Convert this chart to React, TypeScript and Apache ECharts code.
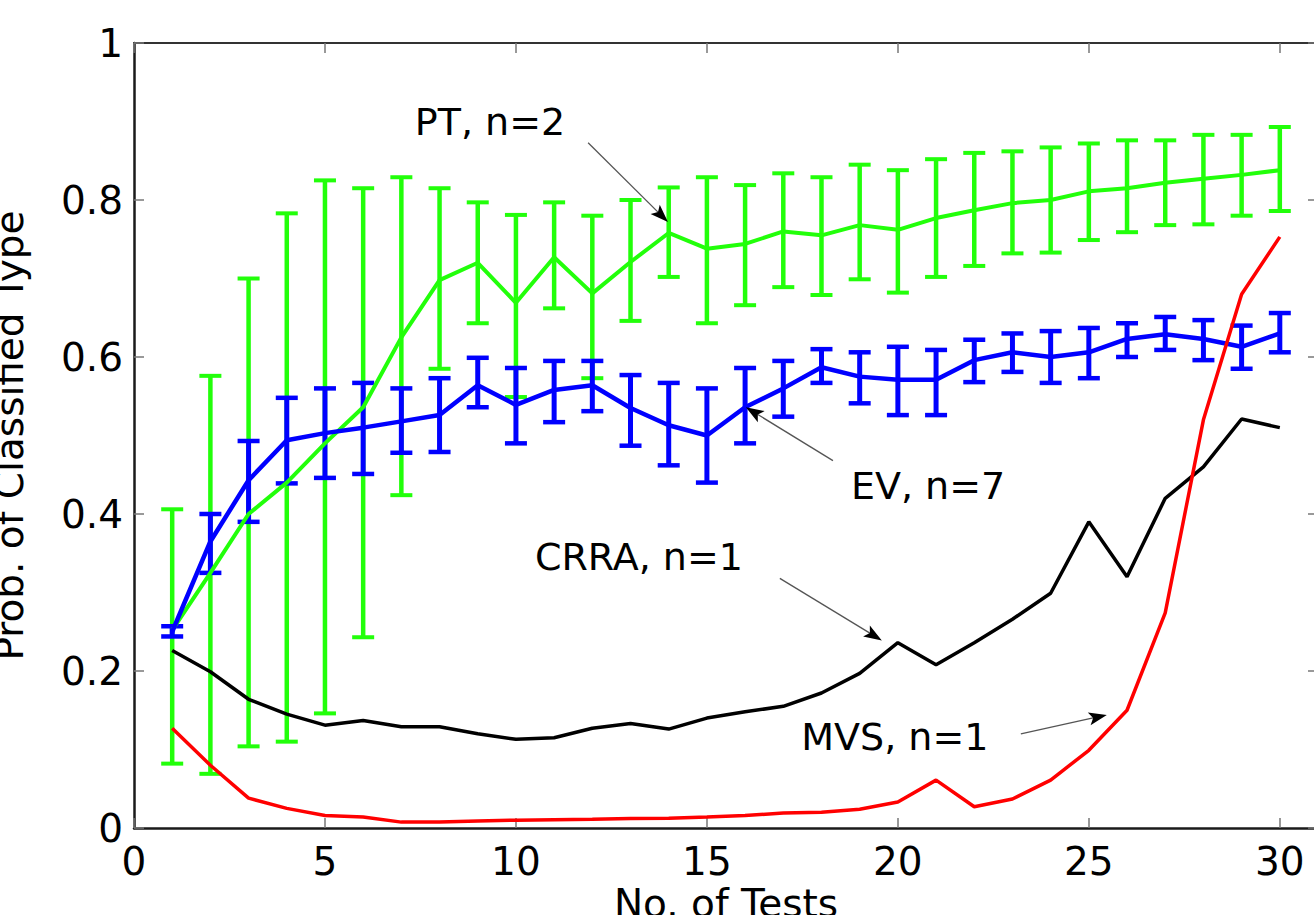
import React, { useEffect, useRef } from "react";
import * as echarts from "echarts";

const tests = [1, 2, 3, 4, 5, 6, 7, 8, 9, 10, 11, 12, 13, 14, 15, 16, 17, 18, 19, 20, 21, 22, 23, 24, 25, 26, 27, 28, 29, 30];

const ptMean = [0.252, 0.325, 0.4, 0.44, 0.49, 0.536, 0.625, 0.698, 0.72, 0.669, 0.727, 0.681, 0.721, 0.758, 0.738, 0.744, 0.76, 0.755, 0.768, 0.762, 0.777, 0.787, 0.796, 0.8, 0.811, 0.815, 0.822, 0.827, 0.832, 0.838];
const ptHigh = [0.406, 0.576, 0.7, 0.783, 0.825, 0.815, 0.829, 0.815, 0.797, 0.781, 0.797, 0.78, 0.8, 0.816, 0.829, 0.819, 0.834, 0.829, 0.845, 0.838, 0.852, 0.86, 0.862, 0.867, 0.872, 0.876, 0.876, 0.883, 0.883, 0.893];
const ptLow = [0.082, 0.069, 0.104, 0.11, 0.146, 0.243, 0.424, 0.585, 0.643, 0.549, 0.662, 0.573, 0.646, 0.702, 0.643, 0.666, 0.689, 0.679, 0.699, 0.682, 0.702, 0.716, 0.732, 0.733, 0.749, 0.759, 0.768, 0.769, 0.78, 0.786];

const evMean = [0.25, 0.365, 0.443, 0.494, 0.503, 0.51, 0.518, 0.526, 0.564, 0.539, 0.558, 0.564, 0.535, 0.513, 0.5, 0.536, 0.56, 0.587, 0.575, 0.571, 0.571, 0.596, 0.606, 0.6, 0.606, 0.623, 0.629, 0.623, 0.613, 0.63];
const evHigh = [0.257, 0.4, 0.493, 0.548, 0.56, 0.567, 0.56, 0.573, 0.599, 0.586, 0.595, 0.595, 0.577, 0.567, 0.56, 0.586, 0.595, 0.61, 0.606, 0.613, 0.609, 0.622, 0.63, 0.633, 0.637, 0.643, 0.651, 0.647, 0.64, 0.656];
const evLow = [0.244, 0.325, 0.39, 0.439, 0.446, 0.451, 0.478, 0.479, 0.536, 0.49, 0.517, 0.531, 0.487, 0.462, 0.44, 0.49, 0.524, 0.567, 0.541, 0.526, 0.526, 0.568, 0.581, 0.567, 0.573, 0.6, 0.609, 0.596, 0.585, 0.606];

const crra = [0.226, 0.199, 0.164, 0.145, 0.131, 0.137, 0.129, 0.129, 0.12, 0.113, 0.115, 0.127, 0.133, 0.126, 0.14, 0.148, 0.155, 0.172, 0.197, 0.236, 0.208, 0.236, 0.266, 0.299, 0.39, 0.32, 0.42, 0.46, 0.521, 0.51];
const mvs = [0.127, 0.08, 0.038, 0.025, 0.016, 0.014, 0.0075, 0.0075, 0.009, 0.01, 0.0105, 0.011, 0.012, 0.0125, 0.014, 0.016, 0.019, 0.02, 0.024, 0.033, 0.061, 0.027, 0.037, 0.061, 0.099, 0.15, 0.274, 0.52, 0.68, 0.753];

const yTicks = [0, 0.2, 0.4, 0.6, 0.8, 1];
const xTickLabels = ["0", "5", "10", "15", "20", "25", "30"];

// annotations in data coordinates: text centre, arrow tail, arrow tip
const annotations = [
  { text: "PT, n=2", at: [9.32, 0.899], tail: [11.89, 0.873], tip: [13.98, 0.772] },
  { text: "EV, n=7", at: [20.79, 0.436], tail: [18.3, 0.468], tip: [16.02, 0.536] },
  { text: "CRRA, n=1", at: [13.22, 0.345], tail: [16.91, 0.318], tip: [19.58, 0.239] },
  { text: "MVS, n=1", at: [19.92, 0.116], tail: [23.22, 0.12], tip: [25.47, 0.144] },
];

const FONT = "DejaVu Sans";
const GREEN = "#22ff0a";
const BLUE = "#0000ff";

function errorBarSeries(name: string, low: number[], high: number[], color: string, vw: number, cw: number) {
  return {
    name,
    type: "custom",
    silent: true,
    clip: false,
    encode: { x: 0, y: [1, 2] },
    data: tests.map((t, i) => [t, low[i], high[i]]),
    renderItem: (params: any, api: any) => {
      const x = api.value(0);
      const pLo = api.coord([x, api.value(1)]);
      const pHi = api.coord([x, api.value(2)]);
      const hw = 11;
      const st = { stroke: color, lineWidth: cw, fill: "none" };
      return {
        type: "group",
        children: [
          { type: "line", shape: { x1: pLo[0], y1: pLo[1], x2: pHi[0], y2: pHi[1] }, style: { stroke: color, lineWidth: vw, fill: "none" } },
          { type: "line", shape: { x1: pHi[0] - hw, y1: pHi[1], x2: pHi[0] + hw, y2: pHi[1] }, style: st },
          { type: "line", shape: { x1: pLo[0] - hw, y1: pLo[1], x2: pLo[0] + hw, y2: pLo[1] }, style: st },
        ],
      };
    },
  };
}

function lineSeries(name: string, values: number[], color: string, width: number) {
  return {
    name,
    type: "line",
    silent: true,
    symbol: "none",
    showSymbol: false,
    data: tests.map((t, i) => [t, values[i]]),
    lineStyle: { color, width },
    itemStyle: { color },
  };
}

export default function App() {
  const ref = useRef<HTMLDivElement>(null);
  useEffect(() => {
    const chart = echarts.init(ref.current!, undefined, { renderer: "svg" });
    const tickStyle = { show: true, inside: true, length: 10, lineStyle: { color: "#777", width: 1.5 } };
    chart.setOption({
      animation: false,
      backgroundColor: "#ffffff",
      textStyle: { fontFamily: FONT },
      grid: { left: 134, top: 43, width: 1184, height: 785, containLabel: false, outerBoundsMode: "none" },
      xAxis: [
        {
          type: "value",
          min: 0,
          max: 31,
          interval: 5,
          position: "bottom",
          name: "No. of Tests",
          nameLocation: "middle",
          nameGap: 56,
          nameMoveOverlap: false,
          nameTextStyle: { fontFamily: FONT, fontSize: 39, color: "#000" },
          axisLine: { show: true, onZero: false, lineStyle: { color: "#1a1a1a", width: 2.5 } },
          axisTick: tickStyle,
          splitLine: { show: false },
          axisLabel: {
            margin: 14,
            fontFamily: FONT,
            fontSize: 39,
            color: "#000",
            showMaxLabel: false,
            formatter: (v: number) => (v % 5 === 0 ? xTickLabels[v / 5] ?? "" : ""),
          },
        },
        {
          type: "value",
          min: 0,
          max: 31,
          interval: 5,
          position: "top",
          axisLine: { show: true, onZero: false, lineStyle: { color: "#333", width: 2 } },
          axisTick: tickStyle,
          splitLine: { show: false },
          axisLabel: { show: false },
        },
      ],
      yAxis: [
        {
          type: "value",
          min: 0,
          max: 1,
          interval: 0.2,
          position: "left",
          name: "Prob. of Classified Type",
          nameLocation: "middle",
          nameRotate: 90,
          nameGap: 105,
          nameMoveOverlap: false,
          nameTextStyle: { fontFamily: FONT, fontSize: 39, color: "#000" },
          axisLine: { show: true, onZero: false, lineStyle: { color: "#1a1a1a", width: 2.5 } },
          axisTick: tickStyle,
          splitLine: { show: false },
          axisLabel: {
            margin: 11,
            fontFamily: FONT,
            fontSize: 39,
            color: "#000",
            formatter: (v: number) => {
              const m = yTicks.find((t) => Math.abs(t - v) < 1e-9);
              return m === undefined ? "" : String(m);
            },
          },
        },
        {
          type: "value",
          min: 0,
          max: 1,
          interval: 0.2,
          position: "right",
          axisLine: { show: true, onZero: false, lineStyle: { color: "#1a1a1a", width: 2 } },
          axisTick: tickStyle,
          splitLine: { show: false },
          axisLabel: { show: false },
        },
      ],
      series: [
        errorBarSeries("PT bars", ptLow, ptHigh, GREEN, 4.5, 4),
        lineSeries("PT, n=2", ptMean, GREEN, 4),
        errorBarSeries("EV bars", evLow, evHigh, BLUE, 5, 4.5),
        lineSeries("EV, n=7", evMean, BLUE, 4.5),
        lineSeries("CRRA, n=1", crra, "#000000", 3.5),
        lineSeries("MVS, n=1", mvs, "#ff0000", 3.5),
      ],
    });

    const toPx = (p: number[]) => chart.convertToPixel({ gridIndex: 0 } as any, p) as number[];
    const graphics: any[] = [];
    annotations.forEach((a) => {
      const c = toPx(a.at);
      const t0 = toPx(a.tail);
      const t1 = toPx(a.tip);
      const dx = t1[0] - t0[0];
      const dy = t1[1] - t0[1];
      const len = Math.sqrt(dx * dx + dy * dy);
      const ux = dx / len;
      const uy = dy / len;
      const hl = 18;
      const hw = 6.5;
      const bx = t1[0] - ux * hl;
      const by = t1[1] - uy * hl;
      graphics.push({
        type: "text",
        silent: true,
        x: c[0],
        y: c[1],
        style: { text: a.text, fontFamily: FONT, fontSize: 38, fill: "#000", textAlign: "center", textVerticalAlign: "middle" },
        z: 10,
      });
      graphics.push({
        type: "line",
        silent: true,
        shape: { x1: t0[0], y1: t0[1], x2: bx + ux * 4, y2: by + uy * 4 },
        style: { stroke: "#555", lineWidth: 1.3 },
        z: 10,
      });
      graphics.push({
        type: "polygon",
        silent: true,
        shape: {
          points: [
            [t1[0], t1[1]],
            [bx - uy * hw, by + ux * hw],
            [bx + ux * 4, by + uy * 4],
            [bx + uy * hw, by - ux * hw],
          ],
        },
        style: { fill: "#000" },
        z: 10,
      });
    });
    chart.setOption({ graphic: graphics });
    return () => chart.dispose();
  }, []);
  return <div ref={ref} style={{ position: "absolute", left: 0, top: 0, width: 1314, height: 915 }} />;
}
